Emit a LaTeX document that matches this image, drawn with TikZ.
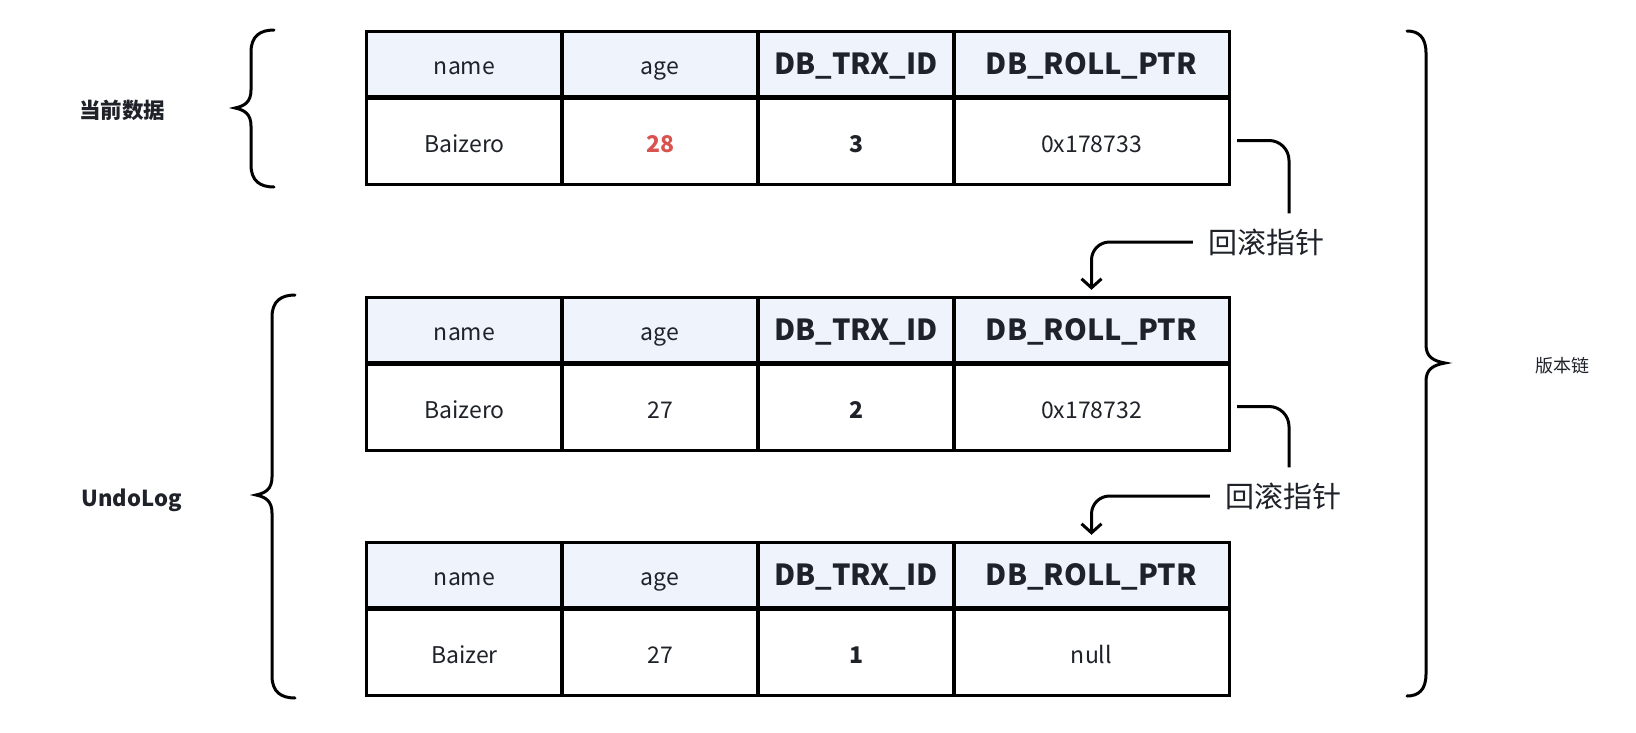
\documentclass[tikz,border=0pt]{standalone}
\usepackage{fontspec}
\setmainfont{Noto Sans CJK SC}
\usetikzlibrary{arrows.meta}
\definecolor{hdr}{HTML}{EEF3FC}
\definecolor{txt}{HTML}{1F2329}
\definecolor{redv}{HTML}{D9534F}
\newcommand\myfs[1]{\fontsize{#1}{#1}\selectfont}
\tikzset{
  hcell/.style={fill=hdr, minimum width=#1, minimum height=65, inner sep=0pt, text=txt, text height=22pt, text depth=2pt},
  bcell/.style={minimum width=#1, minimum height=87, inner sep=0pt, text=txt, text height=26pt, text depth=2pt},
  conn/.style={line width=3pt, draw=black},
  bracestyle/.style={line width=3pt, draw=black, line cap=round},
  rblabel/.style={text=txt, inner sep=15pt, font=\myfs{29}},
}
\newcommand\dbtab[6]{%
  \node[hcell=195] (#1h1) at (464.5,{#2+32.5}) {\myfs{23}name};
  \node[hcell=196] (#1h2) at (660,{#2+32.5}) {\myfs{23}age};
  \node[hcell=196] (#1h3) at (856,{#2+32.5}) {\bfseries\myfs{29}DB\_TRX\_ID};
  \node[hcell=275] (#1h4) at (1091.5,{#2+32.5}) {\bfseries\myfs{29}DB\_ROLL\_PTR};
  \node[bcell=195] (#1b1) at (464.5,{#2+108.5}) {\myfs{23}#3};
  \node[bcell=196] (#1b2) at (660,{#2+108.5}) {\myfs{23}#4};
  \node[bcell=196] (#1b3) at (856,{#2+108.5}) {\bfseries\myfs{23}#5};
  \node[bcell=275] (#1b4) at (1091.5,{#2+108.5}) {\myfs{23}#6};
  \draw[line width=3pt] (#1h1.north west) rectangle (#1b4.south east);
  \draw[line width=5pt] (#1h1.south west) -- (#1h4.south east);
  \foreach \c in {1,2,3} \draw[line width=4pt] (#1h\c.north east) -- (#1b\c.south east);
}
% ex, vx, tipx, top, bot, tipy
\newcommand\drawbrc[6]{%
  \draw[bracestyle] (#1,#4) .. controls ({#1+0.6*(#2-#1)},#4) and (#2,{#4+6}) .. (#2,{#4+22})
    -- (#2,{#6-18}) .. controls (#2,{#6-6}) and ({#2+0.4*(#3-#2)},{#6-2}) .. (#3,#6)
    .. controls ({#2+0.4*(#3-#2)},{#6+2}) and (#2,{#6+6}) .. (#2,{#6+18})
    -- (#2,{#5-22}) .. controls (#2,{#5-6}) and ({#1+0.6*(#2-#1)},#5) .. (#1,#5);
}
\begin{document}
\begin{tikzpicture}[x=1pt,y=-1pt]
\fill[white] (0,0) rectangle (1636,732);
\useasboundingbox (0,0) rectangle (1636,732);

\dbtab{a}{32}{Baizero}{\bfseries\color{redv}28}{3}{0x178733}
\dbtab{b}{298}{Baizero}{27}{2}{0x178732}
\dbtab{c}{543}{Baizer}{27}{1}{null}

\node[text=txt, font=\bfseries\myfs{21.5}] (cur) at (122,110) {当前数据};
\node[text=txt, font=\bfseries\myfs{22}] (undo) at (131.5,500) {UndoLog};
\node[text=txt, font=\myfs{18}] (ver) at (1562,366) {版本链};

\drawbrc{274}{251}{235}{30}{187}{108}
\drawbrc{295}{272}{256}{295}{698}{495}
\drawbrc{1407}{1426}{1445}{31}{696}{363}

\node[rblabel] (rb1) at (1266,242) {回滚指针};
\node[rblabel] (rb2) at (1283,496) {回滚指针};

\draw[conn, rounded corners=20pt, shorten <=8pt] (ab4.east) -| ([xshift=23pt]rb1.north);
\draw[conn, rounded corners=18pt, shorten >=8pt, -{Straight Barb[length=9pt,width=20pt]}] (rb1.west) -| (bh4.north);
\draw[conn, rounded corners=20pt, shorten <=8pt] (bb4.east) -| ([xshift=6pt]rb2.north);
\draw[conn, rounded corners=18pt, shorten >=8pt, -{Straight Barb[length=9pt,width=20pt]}] (rb2.west) -| (ch4.north);
\end{tikzpicture}
\end{document}
